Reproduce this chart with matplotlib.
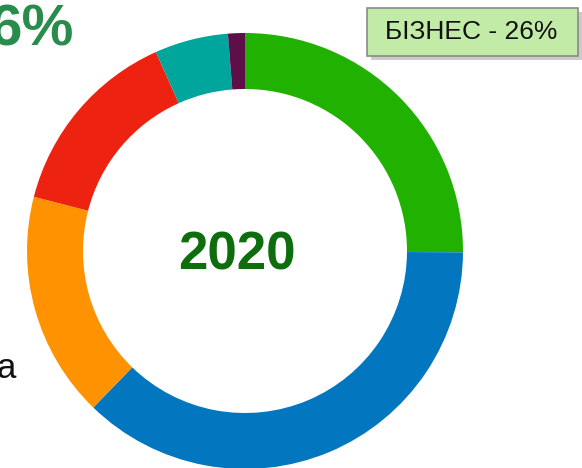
import matplotlib.pyplot as plt
from matplotlib.patches import FancyBboxPatch

# segment shares (%) clockwise from the top
labels = ["Бізнес", "Population", "Orange", "Red", "Teal", "Other"]
values = [25.1, 37.15, 16.75, 14.3, 5.45, 1.25]
colors = ["#21b100", "#0277c0", "#ff9200", "#ee2210", "#00a59b", "#5e0f4a"]

year = "2020"
tooltip = "БІЗНЕС - 26%"

plt.rcParams['font.family'] = ['Liberation Sans', 'DejaVu Sans']

fig = plt.figure(figsize=(5.82, 4.68), dpi=100)
ax = fig.add_axes([0, 0, 1, 1])

# pixel-like coordinates, y measured upwards
cx, cy, R = 245, 468 - 251, 218
ax.pie(values, colors=colors, startangle=90, counterclock=False,
       center=(cx, cy), radius=R, frame=True,
       wedgeprops=dict(width=56, linewidth=0))

ax.text(237, 468 - 256, year, ha="center", va="center",
        fontsize=38, fontweight="bold", color="#0e6e0e")

# cut-off texts from neighbouring elements
ax.text(74, 468 - 30, "6%", ha="right", va="center",
        fontsize=42, fontweight="bold", color="#2a8c4c")
ax.text(16, 468 - 369, "а", ha="right", va="center",
        fontsize=25, color="#111111")

# tooltip box with shadow
shadow = FancyBboxPatch((371, 468 - 60), 211, 48, boxstyle="square,pad=0",
                        facecolor="#999999", edgecolor="none", alpha=0.5)
ax.add_patch(shadow)
box = FancyBboxPatch((367, 468 - 56), 211, 48, boxstyle="square,pad=0",
                     facecolor="#c3eba8", edgecolor="#8a8a8a", linewidth=1.2)
ax.add_patch(box)
ax.text(471, 468 - 32, tooltip, ha="center", va="center",
        fontsize=19, color="#111111")

ax.set_xlim(0, 582)
ax.set_ylim(0, 468)
ax.set_aspect("equal")
ax.axis("off")

plt.savefig("out.png", dpi=100)
